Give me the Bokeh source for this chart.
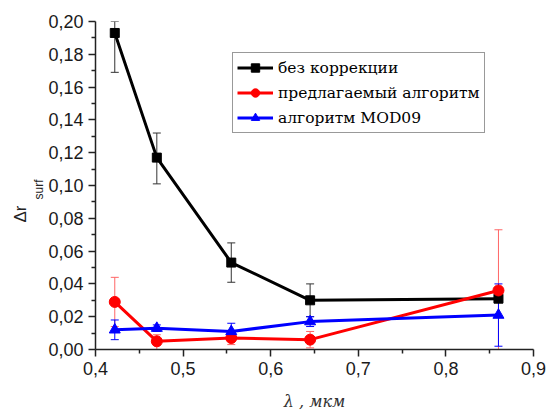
import math
from bokeh.plotting import figure
from bokeh.models import (ColumnDataSource, Whisker, FixedTicker, CustomJSTickFormatter,
                          Title, Range1d, TeeHead)
from bokeh.embed import file_html
from bokeh.resources import INLINE

# ---- data ----
wavelengths = [0.422, 0.470, 0.555, 0.645, 0.860]

no_corr = [0.193, 0.117, 0.053, 0.030, 0.031]
no_corr_lo = [0.169, 0.101, 0.041, 0.020, 0.029]
no_corr_hi = [0.200, 0.132, 0.065, 0.040, 0.033]

proposed = [0.029, 0.005, 0.007, 0.006, 0.036]
proposed_lo = [0.014, 0.000, 0.003, 0.001, 0.000]
proposed_hi = [0.044, 0.009, 0.011, 0.011, 0.073]

mod09 = [0.012, 0.013, 0.011, 0.017, 0.021]
mod09_lo = [0.006, 0.011, 0.006, 0.014, 0.002]
mod09_hi = [0.018, 0.015, 0.016, 0.020, 0.040]

series_names = ["без коррекции", "предлагаемый алгоритм", "алгоритм MOD09"]
x_ticks = [0.4, 0.5, 0.6, 0.7, 0.8, 0.9]
y_ticks = [0.00, 0.02, 0.04, 0.06, 0.08, 0.10, 0.12, 0.14, 0.16, 0.18, 0.20]

p = figure(width=551, height=414, output_backend="svg", toolbar_location=None,
           x_range=Range1d(0.4, 0.9), y_range=Range1d(0.0, 0.2),
           min_border_left=95, min_border_right=18, min_border_top=21, min_border_bottom=65)
p.outline_line_color = None
p.grid.visible = False
p.background_fill_color = "white"
p.border_fill_color = "white"

def style_axis(ax):
    ax.axis_line_color = "#222222"
    ax.axis_line_width = 1.5
    ax.major_tick_line_color = "#222222"
    ax.minor_tick_line_color = "#222222"
    ax.major_tick_line_width = 1.5
    ax.minor_tick_line_width = 1.5
    ax.major_tick_in = 0
    ax.major_tick_out = 7
    ax.minor_tick_in = 0
    ax.minor_tick_out = 4
    ax.major_label_text_font = "Liberation Sans"
    ax.major_label_text_font_size = "18px"
    ax.major_label_text_color = "#1a1a1a"

style_axis(p.xaxis[0])
style_axis(p.yaxis[0])
p.xaxis[0].ticker = FixedTicker(ticks=x_ticks, minor_ticks=[0.45, 0.55, 0.65, 0.75, 0.85])
p.yaxis[0].ticker = FixedTicker(ticks=y_ticks, minor_ticks=[0.01 + 0.02 * i for i in range(10)])
p.xaxis[0].formatter = CustomJSTickFormatter(code="return tick.toFixed(1).replace('.', ',');")
p.yaxis[0].formatter = CustomJSTickFormatter(code="return tick.toFixed(2).replace('.', ',');")
p.xaxis[0].axis_label = "λ , мкм"
p.xaxis[0].axis_label_text_font = "DejaVu Serif"
p.xaxis[0].axis_label_text_font_style = "italic"
p.xaxis[0].axis_label_text_font_size = "16px"
p.xaxis[0].axis_label_text_color = "#333333"
p.xaxis[0].axis_label_standoff = 14

colors = ["black", "#ff0000", "#0000ff"]
err_colors = ["#333333", "#ff6666", "#0000ff"]
vals = [no_corr, proposed, mod09]
los = [no_corr_lo, proposed_lo, mod09_lo]
his = [no_corr_hi, proposed_hi, mod09_hi]
markers = ["square", "circle", "triangle"]
sizes = [9, 11, 11]

for name, c, ec, v, lo, hi, m, s in zip(series_names, colors, err_colors, vals, los, his, markers, sizes):
    src = ColumnDataSource(dict(x=wavelengths, y=v, lo=lo, hi=hi))
    w = Whisker(source=src, base="x", lower="lo", upper="hi", line_color=ec, line_width=1,
                upper_head=TeeHead(size=8, line_color=ec, line_width=1),
                lower_head=TeeHead(size=8, line_color=ec, line_width=1))
    p.add_layout(w)
    p.line("x", "y", source=src, line_color=c, line_width=3, legend_label=name)
    p.scatter("x", "y", source=src, marker=m, size=s, fill_color=c, line_color=c,
              legend_label=name)

leg = p.legend[0]
leg.location = (137, 216)
leg.label_text_font = "DejaVu Serif"
leg.label_text_font_size = "15.5px"
leg.label_text_color = "black"
leg.border_line_color = "#333333"
leg.border_line_width = 1
leg.background_fill_color = "white"
leg.background_fill_alpha = 1
leg.padding = 4
leg.spacing = 4
leg.margin = 0
leg.label_height = 21
leg.glyph_height = 21
leg.glyph_width = 36
leg.label_standoff = 5

# y-axis label: Δr with subscript "surf", as vertical titles in the left panel
t_surf = Title(text="surf", align="left", offset=150, standoff=0,
               text_font="Liberation Sans", text_font_size="12px",
               text_font_style="normal", text_color="#222222")
t_dr = Title(text="Δr", align="left", offset=127, standoff=0,
             text_font="Liberation Sans", text_font_size="17px",
             text_font_style="normal", text_color="#222222")
p.add_layout(t_surf, "left")
p.add_layout(t_dr, "left")

open("out.html", "w").write(file_html(p, INLINE))
